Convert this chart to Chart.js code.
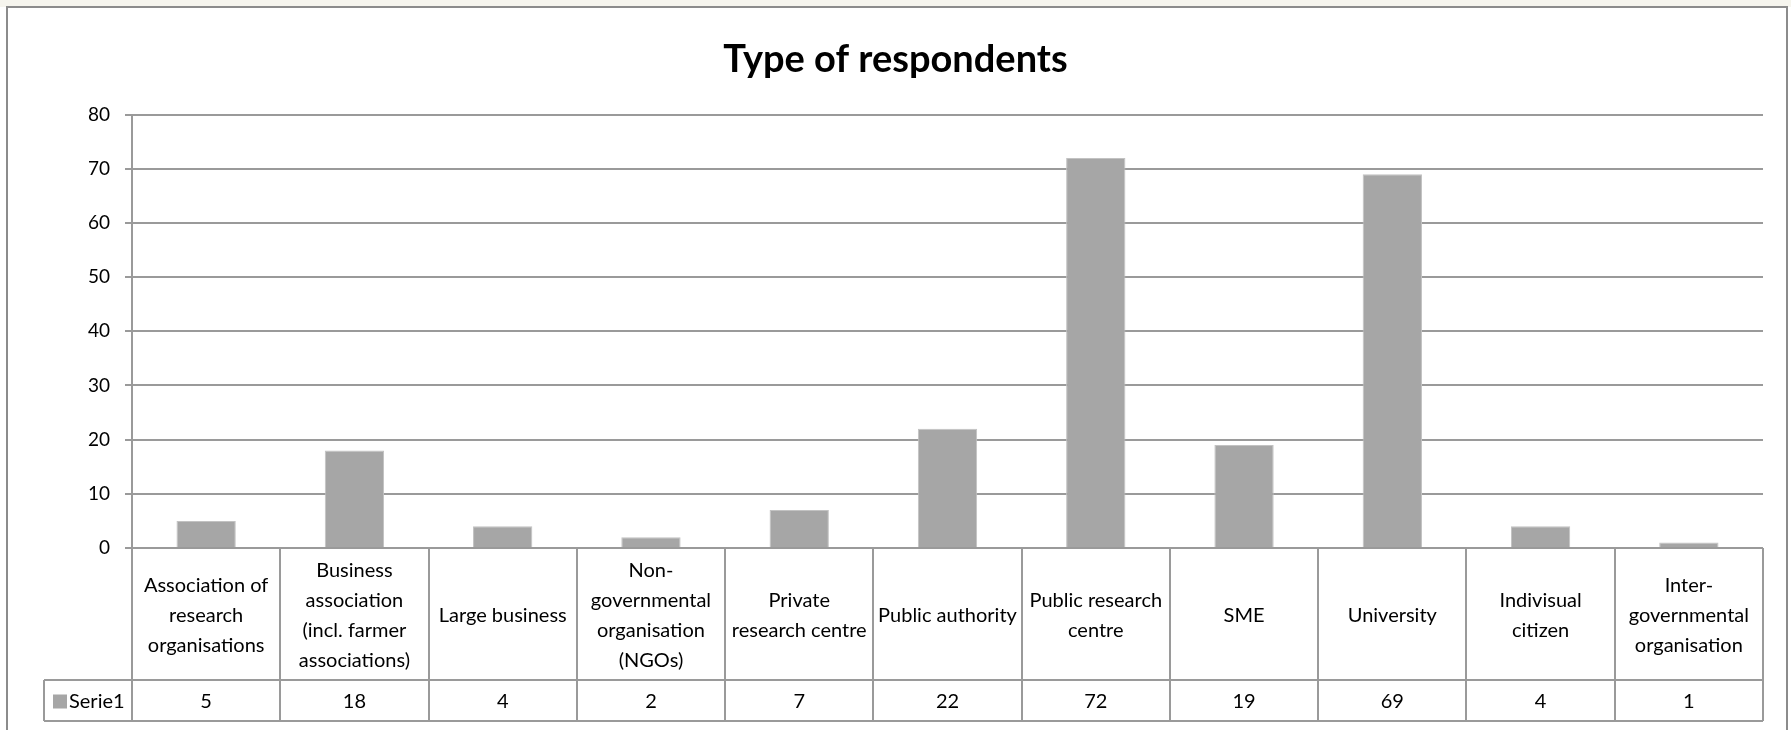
<!DOCTYPE html>
<html>
<head>
<meta charset="utf-8">
<script src="https://cdn.jsdelivr.net/npm/chart.js@4.4.1/dist/chart.umd.min.js"></script>
<style>
  html, body { margin: 0; padding: 0; background: #ffffff; overflow: hidden; }
  canvas { display: block; }
</style>
</head>
<body>
<canvas id="c" width="1791" height="730"></canvas>
<script>
// ---- data ----
const chartTitle = 'Type of respondents';
const seriesName = 'Serie1';
const categories = [
  ['Association of', 'research', 'organisations'],
  ['Business', 'association', '(incl. farmer', 'associations)'],
  ['Large business'],
  ['Non-', 'governmental', 'organisation', '(NGOs)'],
  ['Private', 'research centre'],
  ['Public authority'],
  ['Public research', 'centre'],
  ['SME'],
  ['University'],
  ['Indivisual', 'citizen'],
  ['Inter-', 'governmental', 'organisation']
];
const values = [5, 18, 4, 2, 7, 22, 72, 19, 69, 4, 1];
const yTickValues = [0, 10, 20, 30, 40, 50, 60, 70, 80];

// ---- styles ----
const BAR = '#a6a6a6';
const LINE = '#9a9a9a';
const FONT = 'Lato, "Open Sans", sans-serif';

const frameAndTable = {
  id: 'frameAndTable',
  beforeDraw(chart) {
    const ctx = chart.ctx;
    ctx.save();
    ctx.fillStyle = '#f6f5ee';
    ctx.fillRect(0, 0, chart.width, 7);
    ctx.fillStyle = '#ffffff';
    ctx.fillRect(0, 7, chart.width, chart.height - 7);
    ctx.strokeStyle = '#8c8c8c';
    ctx.lineWidth = 2;
    ctx.strokeRect(7, 7, 1780, 740);
    ctx.restore();
  },
  afterDraw(chart) {
    const ctx = chart.ctx;
    const area = chart.chartArea;
    const x = chart.scales.x;
    const n = categories.length;
    const step = (area.right - area.left) / n;
    const rowTop = area.bottom;
    const rowMid = rowTop + 132;
    const rowBot = rowMid + 41;
    const legendLeft = 44;
    ctx.save();
    ctx.strokeStyle = LINE;
    ctx.lineWidth = 2;
    ctx.beginPath();
    ctx.moveTo(legendLeft, rowMid); ctx.lineTo(area.right, rowMid);
    ctx.moveTo(legendLeft, rowBot); ctx.lineTo(area.right, rowBot);
    ctx.moveTo(legendLeft, rowMid); ctx.lineTo(legendLeft, rowBot);
    for (let i = 0; i <= n; i++) {
      const bx = Math.round(area.left + i * step);
      ctx.moveTo(bx, rowTop); ctx.lineTo(bx, rowBot);
    }
    ctx.stroke();

    // category labels
    ctx.fillStyle = '#000';
    ctx.textAlign = 'center';
    ctx.textBaseline = 'middle';
    ctx.font = '20px ' + FONT;
    const pitch = 30;
    const cy = (rowTop + rowMid) / 2 + 2;
    categories.forEach((lines, i) => {
      const cx = x.getPixelForValue(i);
      const start = cy - (lines.length - 1) * pitch / 2;
      lines.forEach((t, j) => ctx.fillText(t, cx, start + j * pitch));
    });
    // values row
    const vy = (rowMid + rowBot) / 2 + 1;
    values.forEach((v, i) => {
      ctx.fillText(String(v), x.getPixelForValue(i), vy);
    });
    // legend key
    ctx.fillStyle = BAR;
    ctx.fillRect(53, vy - 7, 14, 14);
    ctx.fillStyle = '#000';
    ctx.textAlign = 'left';
    ctx.fillText(seriesName, 69, vy);
    ctx.restore();
  }
};

function build() {
  new Chart(document.getElementById('c'), {
    type: 'bar',
    data: {
      labels: categories,
      datasets: [{
        label: seriesName,
        data: values,
        backgroundColor: BAR,
        borderColor: '#c2c2c2',
        borderWidth: 1,
        barPercentage: 0.4,
        categoryPercentage: 1.0
      }]
    },
    options: {
      responsive: false,
      devicePixelRatio: 1,
      animation: false,
      layout: { padding: { left: 28, right: 28, top: 0, bottom: 182 } },
      plugins: {
        legend: { display: false },
        tooltip: { enabled: false },
        title: {
          display: true,
          text: chartTitle,
          color: '#000',
          font: { family: FONT, size: 38, weight: 'bold' },
          padding: { top: 37, bottom: 32 }
        }
      },
      scales: {
        x: { display: false },
        y: {
          min: 0,
          max: 80,
          afterBuildTicks(s) { s.ticks = yTickValues.map(v => ({ value: v })); },
          afterFit(s) { s.width = 104; },
          ticks: { color: '#000', font: { family: FONT, size: 19 }, padding: 15 },
          grid: { color: LINE, lineWidth: 2, tickLength: 7, drawTicks: true },
          border: { color: LINE, width: 2 }
        }
      }
    },
    plugins: [frameAndTable]
  });
}

Promise.all([
  document.fonts.load('20px Lato'),
  document.fonts.load('bold 38px Lato'),
  document.fonts.load('19px Lato')
]).then(build, build);
</script>
</body>
</html>
